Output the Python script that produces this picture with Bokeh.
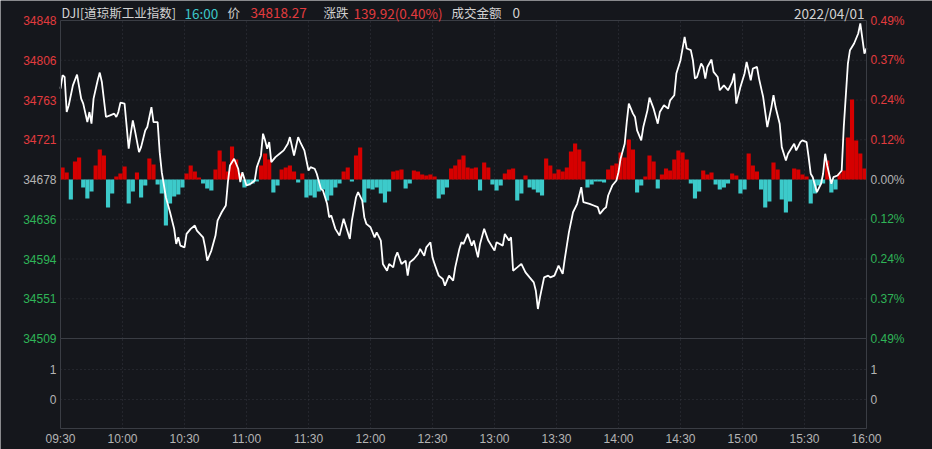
from bokeh.plotting import figure
from bokeh.models import Range1d, ColumnDataSource, LabelSet, Label
from bokeh.core.properties import value
from bokeh.embed import file_html
from bokeh.resources import INLINE

# ---------------- data ----------------
prev_close = 34678.35

line_minutes = [0, 1, 2, 3, 4, 6, 8, 10, 11, 13, 14, 15, 16, 18, 19, 20, 22, 24, 26, 27, 28, 29, 31, 33, 34, 35, 36, 38, 39, 41,
                42, 44, 45, 47, 48, 49, 51, 53, 55, 56, 57, 58, 60, 61, 63, 65, 66, 69, 70, 71, 73, 75, 76, 78, 80, 81, 82, 84, 86, 87,
                88, 90, 92, 94, 95, 97, 98, 99, 100, 101, 102, 104, 106, 108, 110, 111, 113, 115, 116, 118, 120, 121, 123, 124, 126, 127, 129, 130, 131, 133,
                135, 137, 138, 140, 141, 143, 144, 146, 147, 148, 150, 152, 153, 155, 156, 158, 159, 161, 162, 163, 165, 167, 168, 169, 171, 173, 174, 176, 177, 179,
                180, 181, 183, 185, 186, 188, 190, 191, 193, 194, 195, 197, 199, 200, 202, 203, 205, 207, 210, 211, 214, 215, 217, 218, 219, 221, 223, 225, 227, 229,
                230, 231, 232, 234, 236, 237, 239, 241, 243, 244, 246, 248, 250, 252, 253, 256, 258, 260, 261, 263, 264, 265, 267, 269, 270, 271, 273, 274, 275, 277,
                278, 279, 281, 282, 284, 285, 287, 289, 290, 292, 294, 295, 297, 298, 300, 302, 303, 305, 306, 307, 308, 310, 311, 312, 313, 315, 316, 318, 319, 321,
                323, 325, 326, 327, 329, 331, 332, 334, 335, 337, 338, 340, 342, 344, 345, 346, 348, 349, 351, 352, 355, 356, 358, 359, 361, 362, 363, 364, 366, 368,
                369, 370, 371, 373, 374, 376, 378, 379, 381, 382, 384, 386, 387, 389, 390]

line_prices = [34775.3, 34789.5, 34787.7, 34750.3, 34757.5, 34778.8, 34790.3, 34764.6, 34759.3, 34739.6, 34750.3, 34737.9, 34764.6, 34784.2, 34792.4,
               34782.4, 34745.0, 34746.8, 34748.6, 34745.0, 34750.3, 34760.4, 34759.3, 34711.2, 34727.2, 34741.4, 34730.7, 34707.5, 34712.9, 34730.7,
               34734.3, 34755.6, 34739.6, 34739.6, 34707.5, 34686.2, 34659.4, 34643.4, 34625.7, 34609.6, 34616.7, 34607.8, 34606.0, 34620.3, 34625.7,
               34629.2, 34623.9, 34616.7, 34606.0, 34591.8, 34602.5, 34618.5, 34634.5, 34643.4, 34650.6, 34675.5, 34693.3, 34700.5, 34689.8, 34675.5,
               34686.2, 34671.9, 34673.8, 34677.3, 34691.5, 34704.0, 34727.2, 34720.1, 34711.2, 34718.2, 34696.9, 34702.2, 34705.8, 34709.4, 34716.5,
               34723.6, 34704.0, 34723.6, 34718.2, 34709.4, 34688.0, 34691.5, 34689.8, 34684.5, 34668.4, 34666.6, 34652.4, 34638.1, 34639.9, 34625.7,
               34618.5, 34636.4, 34629.2, 34615.0, 34634.5, 34659.4, 34664.8, 34655.9, 34638.1, 34631.0, 34627.4, 34616.7, 34622.0, 34613.2, 34588.3,
               34581.1, 34588.3, 34584.6, 34595.3, 34600.7, 34588.3, 34591.8, 34575.8, 34590.0, 34593.6, 34598.9, 34604.3, 34597.1, 34606.0, 34611.4,
               34595.3, 34588.3, 34575.8, 34572.2, 34565.1, 34575.8, 34570.4, 34584.6, 34604.3, 34611.4, 34609.6, 34620.3, 34607.8, 34613.2, 34595.3,
               34609.6, 34625.7, 34613.2, 34602.5, 34611.4, 34607.8, 34620.3, 34613.2, 34616.7, 34581.1, 34584.6, 34588.3, 34579.3, 34573.9, 34568.6,
               34559.7, 34540.2, 34552.6, 34573.9, 34575.8, 34573.9, 34575.8, 34586.4, 34577.6, 34593.6, 34622.0, 34643.4, 34652.4, 34670.1, 34654.1,
               34652.4, 34650.6, 34648.8, 34641.7, 34647.0, 34648.8, 34661.3, 34671.9, 34677.3, 34686.2, 34700.5, 34716.5, 34739.6, 34759.3, 34748.6,
               34745.0, 34730.7, 34720.1, 34734.3, 34752.1, 34765.7, 34753.9, 34737.9, 34750.3, 34757.5, 34753.9, 34762.8, 34768.2, 34791.4, 34805.6,
               34830.5, 34818.1, 34816.3, 34805.6, 34786.0, 34787.7, 34802.0, 34798.4, 34786.0, 34798.4, 34806.3, 34793.1, 34787.7, 34773.5, 34778.8,
               34773.5, 34782.4, 34791.4, 34759.3, 34777.0, 34791.4, 34803.8, 34784.2, 34796.7, 34798.4, 34786.0, 34766.3, 34734.3, 34755.6, 34768.2,
               34755.6, 34737.9, 34712.9, 34698.7, 34705.8, 34716.5, 34709.4, 34718.2, 34720.1, 34718.2, 34702.2, 34684.5, 34680.8, 34664.8, 34673.8,
               34684.5, 34705.8, 34693.3, 34673.8, 34680.8, 34682.6, 34688.0, 34734.3, 34802.0, 34816.3, 34823.4, 34834.1, 34844.8, 34812.7, 34818.27]

# up/down strength bars, one value per 2-minute slot
bar_values = [12, 7, -20, 18, 22, -8, -19, -12, 14, 30,
              24, -28, -14, 3, 6, 13, -24, -12, 7, -18,
              -6, 21, 15, -5, -14, -46, -24, -17, -15, -8,
              6, 14, 8, 2, -4, -9, -11, 10, 29, 18,
              8, 33, 20, 6, -8, -6, -4, -2, 14, 26,
              20, -13, -6, 10, 12, 14, 8, -3, 6, -18,
              -16, -18, -12, -10, -21, -16, -8, -4, 8, 12,
              -2, 24, 32, -23, -9, -10, -8, -14, -23, -12,
              8, 9, 10, -9, -4, 9, 8, 5, 4, 5,
              3, -19, -15, -8, 11, 14, 20, 24, 12, 11,
              12, -11, 17, 12, -5, -11, -6, 6, 10, 11,
              -21, -14, 4, -8, -10, -13, -16, 21, 14, 6,
              10, 8, 12, 28, 36, 30, 18, -8, -5, -2,
              -2, -3, 10, 14, 16, 27, 22, 40, 30, -13,
              -6, 3, 24, 18, -9, 5, 11, 9, 20, 29,
              27, 20, -4, -19, -12, 9, 5, 7, -5, -10,
              -8, -4, 6, 4, -14, -10, 26, 14, 8, -10,
              -28, -22, 17, 10, -20, -33, -22, 11, 10, 5,
              3, -24, -14, -6, -4, 19, -13, -10, 6, 9,
              42, 80, 39, 26, 11]

price_ticks = [34847.95, 34805.55, 34763.15, 34720.75, 34678.35, 34635.95, 34593.55, 34551.15, 34508.75]
price_labels = ["34848", "34806", "34763", "34721", "34678", "34636", "34594", "34551", "34509"]
pct_labels = ["0.49%", "0.37%", "0.24%", "0.12%", "0.00%", "0.12%", "0.24%", "0.37%", "0.49%"]

time_ticks = [0, 30, 60, 90, 120, 150, 180, 210, 240, 270, 300, 330, 360, 390]
time_labels = ["09:30", "10:00", "10:30", "11:00", "11:30", "12:00", "12:30", "13:00", "13:30",
               "14:00", "14:30", "15:00", "15:30", "16:00"]

amount_ticks = [1, 0]
amount_labels = ["1", "0"]

header_texts = ["DJI[道琼斯工业指数]", "16:00", "价", "34818.27", "涨跌", "139.92(0.40%)", "成交金额", "0"]
date_text = "2022/04/01"

# ---------------- style ----------------
BG = "#15171c"
FRAME = "#3a3d44"
GRID = "#34373e"
RED = "#e23b3e"
GREEN = "#2fb457"
GREY = "#b4b4b4"
HEAD = "#d2d2d2"
CYAN = "#3cc6c8"
BAR_RED = "#d60000"
BAR_CYAN = "#3ccaca"
FONT = "Liberation Sans"
CJK = "Noto Sans CJK SC"

# ---------------- geometry (px) ----------------
W, H = 932, 449
PL, PR = 60, 66            # left / right margins of the plot areas
Y_TOP, Y_MID, Y_BOT = 20, 338, 428   # price area top, panel split, amount area bottom
FW = W - PL - PR
k = FW / 390.0                         # px per minute
top, bottom = price_ticks[0], price_ticks[-1]
ppx = (top - bottom) / (Y_MID - Y_TOP)  # index points per px
APX = 30.0                              # px per amount unit
Y_ONE = 369                             # px row of amount "1"

p = figure(width=W, height=H,
           x_range=Range1d(-PL / k, 390 + PR / k),
           y_range=Range1d(bottom - (H - Y_MID) * ppx, top + Y_TOP * ppx),
           output_backend="svg", toolbar_location=None,
           x_axis_location=None, y_axis_location=None,
           min_border=0, min_border_left=0, min_border_right=0, min_border_top=0, min_border_bottom=0,
           background_fill_color=BG, border_fill_color=BG, outline_line_color=None)
p.grid.visible = False
p.extra_y_ranges = {
    "bars": Range1d(-(H - 179), 179),
    "amount": Range1d(1 - (H - Y_ONE) / APX, 1 + Y_ONE / APX),
}
a_top = 1 + (Y_ONE - Y_MID) / APX
a_bot = 1 - (Y_BOT - Y_ONE) / APX

# ---- price area ----
p.segment(x0=time_ticks[1:-1], y0=bottom, x1=time_ticks[1:-1], y1=top,
          line_color=GRID, line_dash="1 3", line_width=1)
p.segment(x0=0, y0=price_ticks[1:-1], x1=390, y1=price_ticks[1:-1],
          line_color=GRID, line_dash="1 3", line_width=1)

bar_x = [2 * i + 1 for i in range(len(bar_values))]
bar_colors = [BAR_RED if v > 0 else BAR_CYAN for v in bar_values]
p.vbar(x=bar_x, top=bar_values, bottom=0, width=2, fill_color=bar_colors,
       line_color=None, y_range_name="bars")

p.line(line_minutes, line_prices, line_color="white", line_width=1.8)

p.quad(left=0, right=390, bottom=bottom, top=top, fill_color=None, line_color=FRAME, line_width=1)

label_colors = [RED] * 4 + [GREY] + [GREEN] * 4
tick_src = ColumnDataSource(dict(price=price_ticks, label=price_labels, pct=pct_labels, color=label_colors))
p.add_layout(LabelSet(x=-4 / k, y="price", text="label", source=tick_src,
                      text_align="right", text_baseline="middle", text_color="color",
                      text_font=value(FONT), text_font_size="12px"))
p.add_layout(LabelSet(x=390 + 4 / k, y="price", text="pct", source=tick_src,
                      text_align="left", text_baseline="middle", text_color="color",
                      text_font=value(FONT), text_font_size="12px"))

# ---- header ----
head_y = top + 8 * ppx
head_px = [61, 184, 227, 250, 323, 353, 451, 512]
head_col = [HEAD, CYAN, HEAD, RED, HEAD, RED, HEAD, HEAD]
head_size = ["12.5px", "13.5px", "12.5px", "13.5px", "12.5px", "13.5px", "12.5px", "13.5px"]
for txt, hx, col, fs in zip(header_texts, head_px, head_col, head_size):
    p.add_layout(Label(x=(hx - PL) / k, y=head_y, text=txt,
                       text_color=col, text_font=CJK, text_font_size=fs,
                       text_baseline="middle", text_align="left"))
p.add_layout(Label(x=(864 - PL) / k, y=head_y, text=date_text,
                   text_color=HEAD, text_font=CJK, text_font_size="13.5px",
                   text_baseline="middle", text_align="right"))

# ---- amount area ----
p.segment(x0=time_ticks[1:-1], y0=a_bot, x1=time_ticks[1:-1], y1=a_top,
          line_color=GRID, line_dash="1 3", line_width=1, y_range_name="amount")
p.segment(x0=0, y0=amount_ticks, x1=390, y1=amount_ticks,
          line_color=GRID, line_dash="1 3", line_width=1, y_range_name="amount")
p.quad(left=0, right=390, bottom=a_bot, top=a_top, fill_color=None, line_color=FRAME,
       line_width=1, y_range_name="amount")

amt_src = ColumnDataSource(dict(v=amount_ticks, label=amount_labels))
p.add_layout(LabelSet(x=-4 / k, y="v", text="label", source=amt_src, y_range_name="amount",
                      text_align="right", text_baseline="middle", text_color=GREY,
                      text_font=value(FONT), text_font_size="12px"))
p.add_layout(LabelSet(x=390 + 4 / k, y="v", text="label", source=amt_src, y_range_name="amount",
                      text_align="left", text_baseline="middle", text_color=GREY,
                      text_font=value(FONT), text_font_size="12px"))

time_src = ColumnDataSource(dict(t=time_ticks, label=time_labels, y=[a_bot - 10 / APX] * len(time_ticks)))
p.add_layout(LabelSet(x="t", y="y", text="label", source=time_src, y_range_name="amount",
                      text_align="center", text_baseline="middle", text_color=GREY,
                      text_font=value(FONT), text_font_size="12px"))

open("out.html", "w").write(file_html(p, INLINE))
